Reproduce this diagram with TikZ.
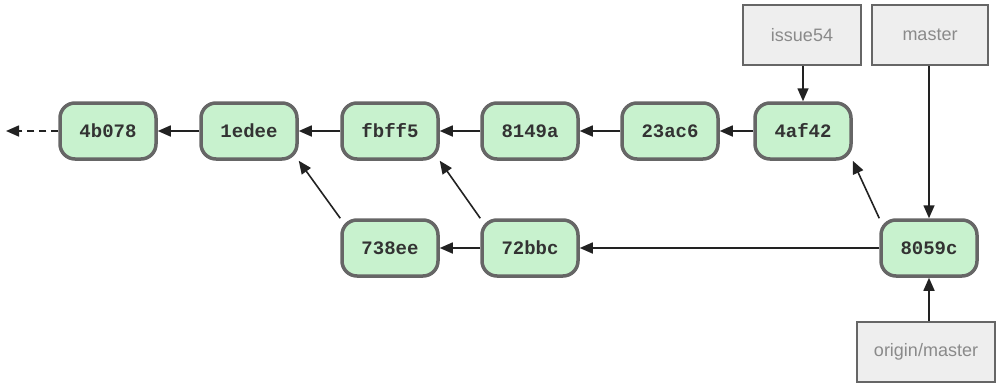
\documentclass[tikz,border=0pt]{standalone}
\usepackage{fontspec}
\setmonofont{Liberation Mono}
\setsansfont{Liberation Sans}
\usetikzlibrary{arrows.meta}
\definecolor{cfill}{HTML}{C8F2CE}
\definecolor{cborder}{HTML}{666666}
\definecolor{bfill}{HTML}{EEEEEE}
\definecolor{btext}{HTML}{8A8A8A}
\definecolor{arr}{HTML}{222222}
\begin{document}
\begin{tikzpicture}[x=1pt,y=-1pt,
  commit/.style={draw=cborder,fill=cfill,line width=3.5pt,rounded corners=15pt,
    minimum width=96pt,minimum height=56pt,inner sep=0pt,
    font=\fontsize{19}{21}\selectfont\ttfamily\bfseries,text=black!80},
  branch/.style={draw=cborder,fill=bfill,line width=2.5pt,
    minimum height=60pt,inner sep=0pt,
    font=\fontsize{18}{20}\selectfont\sffamily,text=btext},
  link/.style={draw=arr,line width=1.6pt,-{Triangle[length=13pt,width=11pt]}}]
\useasboundingbox (0,0) rectangle (996,383);
\node[commit] (c4b078) at (108,131) {4b078};
\node[commit] (c1edee) at (249,131) {1edee};
\node[commit] (cfbff5) at (390,131) {fbff5};
\node[commit] (c8149a) at (530,131) {8149a};
\node[commit] (c23ac6) at (670,131) {23ac6};
\node[commit] (c4af42) at (803,131) {4af42};
\node[commit] (c738ee) at (390,248) {738ee};
\node[commit] (c72bbc) at (530,248) {72bbc};
\node[commit] (c8059c) at (929,248) {8059c};
\node[branch,minimum width=118pt] (issue) at (802,35) {issue54};
\node[branch,minimum width=116pt] (master) at (930,35) {master};
\node[branch,minimum width=138pt] (origin) at (926,352) {origin/master};
\coordinate (far) at (6,131);
\draw[link,dash pattern=on 7pt off 5pt] (c4b078) -- (far);
\draw[link] (c1edee) -- (c4b078);
\draw[link] (cfbff5) -- (c1edee);
\draw[link] (c8149a) -- (cfbff5);
\draw[link] (c23ac6) -- (c8149a);
\draw[link] (c4af42) -- (c23ac6);
\draw[link] (c72bbc) -- (c738ee);
\draw[link] (c8059c) -- (c72bbc);
\draw[link] (c738ee.north west) -- (c1edee.south east);
\draw[link] (c72bbc.north west) -- (cfbff5.south east);
\draw[link] (c8059c.north west) -- (c4af42.south east);
\draw[link] (issue.south -| c4af42.north) -- (c4af42.north);
\draw[link] (master.south -| c8059c.north) -- (c8059c.north);
\draw[link] (origin.north -| c8059c.south) -- (c8059c.south);
\end{tikzpicture}
\end{document}
